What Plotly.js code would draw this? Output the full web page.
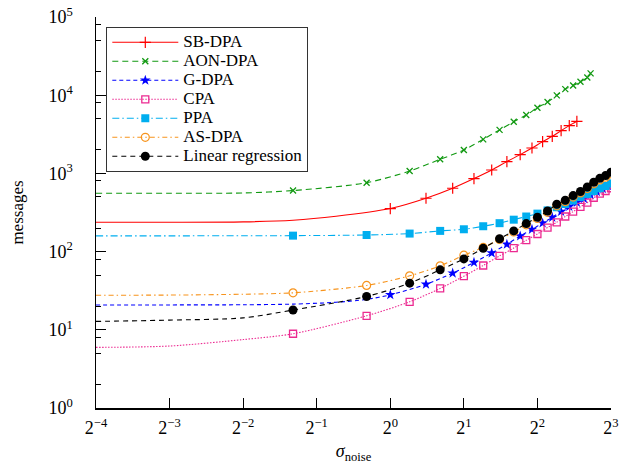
<!DOCTYPE html>
<html>
<head>
<meta charset="utf-8">
<script src="https://cdn.plot.ly/plotly-3.0.1.min.js"></script>
<style>
  html, body { margin: 0; padding: 0; background: #fff; }
  #chart { width: 625px; height: 464px; }
</style>
</head>
<body>
<div id="chart"></div>
<script>
// ---- data ----
const seriesNames = ["SB-DPA", "AON-DPA", "G-DPA", "CPA", "PPA", "AS-DPA", "Linear regression"];

const sbSigma = [0.0625, 0.125, 0.25, 0.4, 0.6, 1.0, 1.4, 1.8, 2.2, 2.6, 3.0, 3.4, 3.8, 4.2, 4.6, 5.0, 5.4, 5.8];
const sbMsgs  = [237, 237, 240, 252, 283, 355, 481, 646, 858, 1106, 1415, 1738, 2112, 2550, 2980, 3525, 4080, 4630];

const aonSigma = [0.0625, 0.125, 0.25, 0.4, 0.8, 1.2, 1.6, 2.0, 2.4, 2.8, 3.2, 3.6, 4.0, 4.4, 4.8, 5.2, 5.6, 6.0, 6.4, 6.6];
const aonMsgs  = [557, 557, 562, 603, 760, 1073, 1514, 1990, 2725, 3600, 4575, 5570, 6920, 8170, 9940, 11960, 13300, 14860, 16870, 19000];

const gSigma = [0.0625, 0.125, 0.25, 0.4, 0.6, 0.8, 1.0, 1.4, 1.8, 2.2, 2.6, 3.0, 3.4, 3.8, 4.2, 4.6, 5.0, 5.4, 5.8, 6.2, 6.6, 7.0, 7.4, 7.8, 8.0];
const gMsgs  = [20.8, 20.8, 20.9, 21.3, 22.5, 24.5, 28, 38.2, 53, 72.6, 96, 124, 158, 192, 232, 274, 325, 377, 425, 475, 530, 585, 635, 690, 715];

const cpaSigma = [0.0625, 0.125, 0.25, 0.4, 0.8, 1.2, 1.6, 2.0, 2.4, 2.8, 3.2, 3.6, 4.0, 4.4, 4.8, 5.2, 5.6, 6.0, 6.4, 6.8, 7.2, 7.6, 8.0];
const cpaMsgs  = [5.96, 6.2, 7.5, 8.9, 15.1, 22.8, 33.8, 48.5, 66.4, 88.2, 111, 140, 168, 203, 237, 281, 325, 374, 424, 488, 550, 596, 646];

const ppaSigma = [0.0625, 0.125, 0.25, 0.4, 0.8, 1.2, 1.6, 2.0, 2.4, 2.8, 3.2, 3.6, 4.0, 4.4, 4.8, 5.2, 5.6, 6.0, 6.4, 6.8, 7.2, 7.6, 8.0];
const ppaMsgs  = [159, 159, 159.5, 160, 163, 170, 184, 193, 211, 231, 256, 281, 306, 336, 369, 406, 450, 500, 546, 596, 646, 690, 745];

const asSigma = [0.0625, 0.125, 0.25, 0.4, 0.8, 1.2, 1.6, 2.0, 2.4, 2.8, 3.2, 3.6, 4.0, 4.4, 4.8, 5.2, 5.6, 6.0, 6.4, 6.8, 7.2, 7.6, 8.0];
const asMsgs  = [27.7, 27.8, 28.5, 29.7, 36.9, 49, 65.7, 90, 113, 143, 178, 220, 265, 318, 385, 435, 498, 562, 640, 735, 825, 895, 985];

const lrSigma = [0.0625, 0.125, 0.25, 0.4, 0.8, 1.2, 1.6, 2.0, 2.4, 2.8, 3.2, 3.6, 4.0, 4.4, 4.8, 5.2, 5.6, 6.0, 6.4, 6.8, 7.2, 7.6, 8.0];
const lrMsgs  = [12.8, 13.3, 14.2, 17.9, 26.7, 39.5, 58.4, 80.7, 110, 146, 184, 228, 275, 331, 403, 453, 520, 586, 670, 770, 865, 937, 1033];

// first index (in each series) that carries a marker, and last index (exclusive)
const markFrom = [5, 3, 6, 3, 3, 3, 3];
const markTo   = [18, 20, 24, 23, 23, 23, 23];

const xTickVals = [0.0625, 0.125, 0.25, 0.5, 1, 2, 4, 8];
const xTickText = ["2<sup>\u22124</sup>", "2<sup>\u22123</sup>", "2<sup>\u22122</sup>", "2<sup>\u22121</sup>", "2<sup>0</sup>", "2<sup>1</sup>", "2<sup>2</sup>", "2<sup>3</sup>"];
const yTickVals = [1, 10, 100, 1000, 10000, 100000];
const yTickText = ["10<sup>0</sup>", "10<sup>1</sup>", "10<sup>2</sup>", "10<sup>3</sup>", "10<sup>4</sup>", "10<sup>5</sup>"];

// ---- styles ----
const styles = [
  {color: "#ff0000", dash: "solid",             marker: {symbol: "cross-thin", size: 8, color: "#ff0000", line: {width: 1.2, color: "#ff0000"}}},
  {color: "#119911", dash: "6px,4px",           marker: {symbol: "x-thin", size: 6, color: "#119911", line: {width: 1.3, color: "#119911"}}},
  {color: "#0000ff", dash: "4px,3px",           marker: {symbol: "star", size: 8, color: "#0000ff", line: {width: 0}}},
  {color: "#ec2a91", dash: "1.5px,1.5px",       marker: {symbol: "square-open", size: 7, color: "#ec2a91", line: {width: 1.3, color: "#ec2a91"}}},
  {color: "#00aeef", dash: "7px,3px,1.5px,3px", marker: {symbol: "square", size: 8, color: "#00aeef", line: {width: 0}}},
  {color: "#f7941d", dash: "5px,3px,1.5px,3px", marker: {symbol: "circle-open", size: 8, color: "#f7941d", line: {width: 1.2, color: "#f7941d"}}},
  {color: "#000000", dash: "5px,4px",           marker: {symbol: "circle", size: 9, color: "#000000", line: {width: 0}}}
];

const xs = [sbSigma, aonSigma, gSigma, cpaSigma, ppaSigma, asSigma, lrSigma];
const ys = [sbMsgs, aonMsgs, gMsgs, cpaMsgs, ppaMsgs, asMsgs, lrMsgs];

const traces = [];
for (let i = 0; i < seriesNames.length; i++) {
  const st = styles[i];
  traces.push({
    type: "scatter", mode: "lines", x: xs[i], y: ys[i],
    line: {color: st.color, width: 1.1, dash: st.dash, shape: "spline", smoothing: 0.8},
    showlegend: false, hoverinfo: "skip"
  });
  traces.push({
    type: "scatter", mode: "markers",
    x: xs[i].slice(markFrom[i], markTo[i]), y: ys[i].slice(markFrom[i], markTo[i]),
    marker: st.marker, showlegend: false, hoverinfo: "skip"
  });
}
// legend entries (line sample with marker)
for (let i = 0; i < seriesNames.length; i++) {
  const st = styles[i];
  traces.push({
    type: "scatter", mode: "lines+markers", x: [null], y: [null],
    name: '<span style="font-size:17px">' + seriesNames[i] + '</span>',
    line: {color: st.color, width: 1.1, dash: st.dash}, marker: st.marker, showlegend: true
  });
}

const minorY = [];
for (let k = 0; k < 5; k++) { [2, 5, 8].forEach(m => minorY.push(m * Math.pow(10, k))); }

const font = "Liberation Serif, Times New Roman, serif";
const layout = {
  width: 625, height: 464,
  margin: {l: 96, r: 14, t: 17, b: 56},
  paper_bgcolor: "#fff", plot_bgcolor: "#fff",
  font: {family: font, color: "#000", size: 17},
  showlegend: true,
  legend: {
    x: 0.02, y: 0.975, xanchor: "left", yanchor: "top",
    bgcolor: "#fff", bordercolor: "#333", borderwidth: 1,
    font: {family: font, size: 12, color: "#000"},
    itemwidth: 66, tracegroupgap: 0, traceorder: "normal"
  },
  xaxis: {
    type: "log", range: [Math.log10(0.0625), Math.log10(8)],
    tickmode: "array", tickvals: xTickVals, ticktext: xTickText,
    ticks: "inside", ticklen: 10, tickwidth: 1.2, tickcolor: "#000",
    showline: true, linecolor: "#000", linewidth: 1.5, mirror: false,
    showgrid: false, zeroline: false,
    tickfont: {family: font, size: 18, color: "#000"},
    ticklabelstandoff: 3,
    title: {text: "<i>\u03c3</i><sub>noise</sub>", font: {family: font, size: 18, color: "#000"}, standoff: 11}
  },
  yaxis: {
    type: "log", range: [0, 5],
    tickmode: "array", tickvals: yTickVals, ticktext: yTickText,
    ticks: "inside", ticklen: 10, tickwidth: 1.2, tickcolor: "#000",
    minor: {tickmode: "array", tickvals: minorY, ticks: "inside", ticklen: 5, tickwidth: 1, tickcolor: "#000", showgrid: false},
    showline: true, linecolor: "#000", linewidth: 1.5, mirror: false,
    showgrid: false, zeroline: false,
    tickfont: {family: font, size: 18, color: "#000"},
    ticklabelstandoff: 18,
    title: {text: "messages", font: {family: font, size: 17, color: "#000"}, standoff: 20}
  }
};

Plotly.newPlot("chart", traces, layout, {displayModeBar: false, staticPlot: true});
</script>
</body>
</html>
